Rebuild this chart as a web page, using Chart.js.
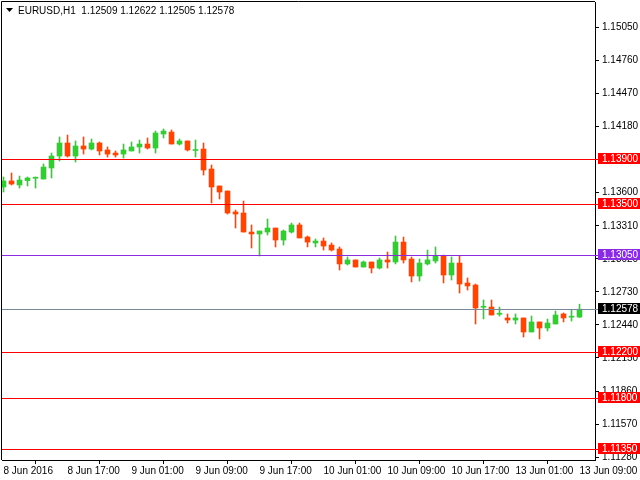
<!DOCTYPE html>
<html>
<head>
<meta charset="utf-8">
<title>EURUSD,H1</title>
<script src="https://cdn.jsdelivr.net/npm/chart.js@4.4.0/dist/chart.umd.min.js"></script>
<style>
  html, body { margin: 0; padding: 0; background: #ffffff; }
  #wrap { width: 640px; height: 480px; }
</style>
</head>
<body>
<div id="wrap"><canvas id="myChart" width="640" height="480"></canvas></div>
<script>
// hourly bars, 8 Jun 2016 09:00 .. 13 Jun 2016 09:00
const symbol = "EURUSD,H1";

const open = [1.13650,1.13703,1.13668,1.13706,1.13727,1.13720,1.13817,1.13922,1.14036,1.13922,
  1.14010,1.13983,1.14036,1.13975,1.13948,1.13939,1.13966,1.14001,1.14027,1.13992,
  1.14115,1.14132,1.14027,1.14054,1.13970,1.13983,1.13808,1.13659,1.13615,1.13431,
  1.13422,1.13255,1.13238,1.13255,1.13290,1.13185,1.13255,1.13317,1.13211,1.13159,
  1.13176,1.13141,1.13106,1.12975,1.13010,1.12948,1.12992,1.12939,1.13010,1.12992,
  1.13167,1.13018,1.12869,1.12975,1.13001,1.13045,1.12878,1.12983,1.12808,1.12790,
  1.12595,1.12597,1.12534,1.12501,1.12483,1.12501,1.12378,1.12466,1.12413,1.12448,
  1.12536,1.12508,1.12509];

const high = [1.13738,1.13773,1.13746,1.13738,1.13738,1.13852,1.13948,1.14089,1.14106,1.14054,
  1.14089,1.14071,1.14045,1.14001,1.13966,1.14027,1.14045,1.14062,1.14080,1.14141,
  1.14159,1.14150,1.14071,1.14054,1.14062,1.14036,1.13843,1.13659,1.13615,1.13448,
  1.13527,1.13317,1.13264,1.13369,1.13290,1.13273,1.13334,1.13334,1.13220,1.13194,
  1.13203,1.13159,1.13124,1.13036,1.13010,1.13001,1.12992,1.13027,1.13080,1.13220,
  1.13211,1.13036,1.13018,1.13097,1.13124,1.13053,1.13036,1.13045,1.12852,1.12799,
  1.12659,1.12659,1.12597,1.12536,1.12536,1.12501,1.12518,1.12466,1.12492,1.12562,
  1.12545,1.12571,1.12622];

const low = [1.13606,1.13668,1.13641,1.13659,1.13641,1.13720,1.13729,1.13878,1.13913,1.13869,
  1.13939,1.13975,1.13931,1.13913,1.13913,1.13904,1.13966,1.13948,1.13983,1.13948,
  1.14080,1.14027,1.14018,1.13966,1.13913,1.13755,1.13510,1.13545,1.13413,1.13290,
  1.13255,1.13115,1.13045,1.13229,1.13124,1.13141,1.13246,1.13203,1.13124,1.13124,
  1.13097,1.13089,1.12922,1.12966,1.12948,1.12948,1.12896,1.12931,1.12939,1.12975,
  1.12983,1.12817,1.12825,1.12966,1.12983,1.12808,1.12834,1.12720,1.12746,1.12448,
  1.12492,1.12527,1.12518,1.12457,1.12448,1.12334,1.12378,1.12317,1.12387,1.12448,
  1.12466,1.12474,1.12505];

const close = [1.13703,1.13676,1.13711,1.13729,1.13731,1.13825,1.13922,1.14036,1.13922,1.14010,
  1.13983,1.14036,1.13966,1.13939,1.13931,1.13975,1.14001,1.14027,1.13992,1.14124,
  1.14141,1.14027,1.14054,1.13975,1.13974,1.13799,1.13650,1.13606,1.13422,1.13413,
  1.13255,1.13238,1.13264,1.13290,1.13185,1.13264,1.13317,1.13203,1.13167,1.13176,
  1.13132,1.13097,1.12975,1.13010,1.12948,1.12992,1.12939,1.13010,1.12992,1.13167,
  1.13010,1.12869,1.12983,1.13010,1.13045,1.12878,1.12983,1.12799,1.12782,1.12589,
  1.12599,1.12527,1.12538,1.12483,1.12501,1.12378,1.12466,1.12413,1.12457,1.12527,
  1.12501,1.12512,1.12578];

const xTickIndex = [0, 8, 16, 24, 32, 40, 48, 56, 64, 72];
const xTickLabels = ["8 Jun 2016", "8 Jun 17:00", "9 Jun 01:00", "9 Jun 09:00", "9 Jun 17:00",
  "10 Jun 01:00", "10 Jun 09:00", "10 Jun 17:00", "13 Jun 01:00", "13 Jun 09:00"];

const yTicks = [1.15050, 1.14760, 1.14470, 1.14180, 1.13890, 1.13600, 1.13310,
  1.13020, 1.12730, 1.12440, 1.12150, 1.11860, 1.11570, 1.11280];

// horizontal lines drawn on the chart
const redLevels = [1.13900, 1.13500, 1.12200, 1.11800, 1.11350];
const purpleLevel = 1.13050;

const bullColor = "#32cd32";
const bearColor = "#ff4500";
const font = { family: "'Liberation Sans', Arial, sans-serif", size: 10 };

const barColors = close.map((c, i) => c >= open[i] ? bullColor : bearColor);
const bodies = open.map((o, i) => ({ x: i, y: [o, close[i]] }));
const wicks = low.map((l, i) => ({ x: i, y: [l, high[i]] }));

const overlay = {
  id: "overlay",
  afterDatasetsDraw(chart) {
    const ctx = chart.ctx;
    const area = chart.chartArea;
    const y = chart.scales.y;
    const line = (price, color) => {
      const py = Math.round(y.getPixelForValue(price)) + 0.5;
      ctx.beginPath();
      ctx.moveTo(area.left, py);
      ctx.lineTo(area.right + 3, py);
      ctx.strokeStyle = color;
      ctx.lineWidth = 1;
      ctx.stroke();
    };
    ctx.save();
    redLevels.forEach(p => line(p, "#ff0000"));
    line(purpleLevel, "#8a2be2");
    line(close[close.length - 1], "#778899");
    ctx.restore();
  },
  afterDraw(chart) {
    const ctx = chart.ctx;
    const area = chart.chartArea;
    const y = chart.scales.y;
    ctx.save();

    // frame on the left and top
    ctx.strokeStyle = "#000000";
    ctx.lineWidth = 1;
    ctx.beginPath();
    ctx.moveTo(area.left - 0.5, area.bottom);
    ctx.lineTo(area.left - 0.5, area.top - 0.5);
    ctx.lineTo(area.right, area.top - 0.5);
    ctx.stroke();

    // price tags on the right scale
    const tag = (price, bg) => {
      const py = Math.round(y.getPixelForValue(price));
      ctx.fillStyle = bg;
      ctx.fillRect(area.right + 3, py - 6, chart.width - area.right - 3, 11);
      ctx.fillStyle = "#ffffff";
      ctx.font = font.size + "px " + font.family;
      ctx.textBaseline = "middle";
      ctx.textAlign = "left";
      ctx.fillText(price.toFixed(5), area.right + 7, py);
    };
    redLevels.forEach(p => tag(p, "#ff0000"));
    tag(purpleLevel, "#8a2be2");
    tag(close[close.length - 1], "#000000");

    // header
    const last = close.length - 1;
    ctx.fillStyle = "#000000";
    ctx.beginPath();
    ctx.moveTo(6, 8);
    ctx.lineTo(13, 8);
    ctx.lineTo(9.5, 12);
    ctx.closePath();
    ctx.fill();
    ctx.font = font.size + "px " + font.family;
    ctx.textBaseline = "middle";
    ctx.textAlign = "left";
    const header = symbol + "  " + [open[last], high[last], low[last], close[last]].map(v => v.toFixed(5)).join(" ");
    ctx.fillText(header, 18, 11);
    ctx.restore();
  }
};

const ctx = document.getElementById("myChart").getContext("2d");
new Chart(ctx, {
  type: "bar",
  data: {
    datasets: [
      {
        label: "wick",
        data: wicks,
        backgroundColor: barColors,
        barThickness: 1,
        grouped: false,
        borderWidth: 0
      },
      {
        label: "body",
        data: bodies,
        backgroundColor: barColors,
        barThickness: 5,
        minBarLength: 1,
        grouped: false,
        borderWidth: 0
      }
    ]
  },
  options: {
    responsive: false,
    animation: false,
    devicePixelRatio: 1,
    layout: { padding: { left: 2, top: 2, right: 0, bottom: 0 } },
    plugins: {
      legend: { display: false },
      tooltip: { enabled: false }
    },
    scales: {
      x: {
        type: "linear",
        min: -0.1875,
        max: 73.9375,
        offset: false,
        afterBuildTicks: (scale) => { scale.ticks = xTickIndex.map(v => ({ value: v })); },
        afterFit: (scale) => {
          scale.height = 20;
          scale.paddingLeft = 0;
          scale.paddingRight = 0;
        },
        grid: { drawOnChartArea: false, drawTicks: true, tickLength: 4, color: "#000000" },
        border: { display: true, color: "#000000" },
        ticks: {
          autoSkip: false,
          maxRotation: 0,
          align: "start",
          padding: 1,
          color: "#000000",
          font: font,
          callback: (v) => {
            const k = xTickIndex.indexOf(v);
            return k >= 0 ? xTickLabels[k] : "";
          }
        }
      },
      y: {
        position: "right",
        min: 1.11255,
        max: 1.15273,
        afterBuildTicks: (scale) => { scale.ticks = yTicks.map(v => ({ value: v })); },
        afterFit: (scale) => {
          scale.width = 45;
          scale.paddingTop = 0;
          scale.paddingBottom = 0;
        },
        grid: { drawOnChartArea: false, drawTicks: true, tickLength: 4, color: "#000000" },
        border: { display: true, color: "#000000" },
        ticks: {
          padding: 3,
          color: "#000000",
          font: font,
          callback: (v) => Number(v).toFixed(5)
        }
      }
    }
  },
  plugins: [overlay]
});
</script>
</body>
</html>
